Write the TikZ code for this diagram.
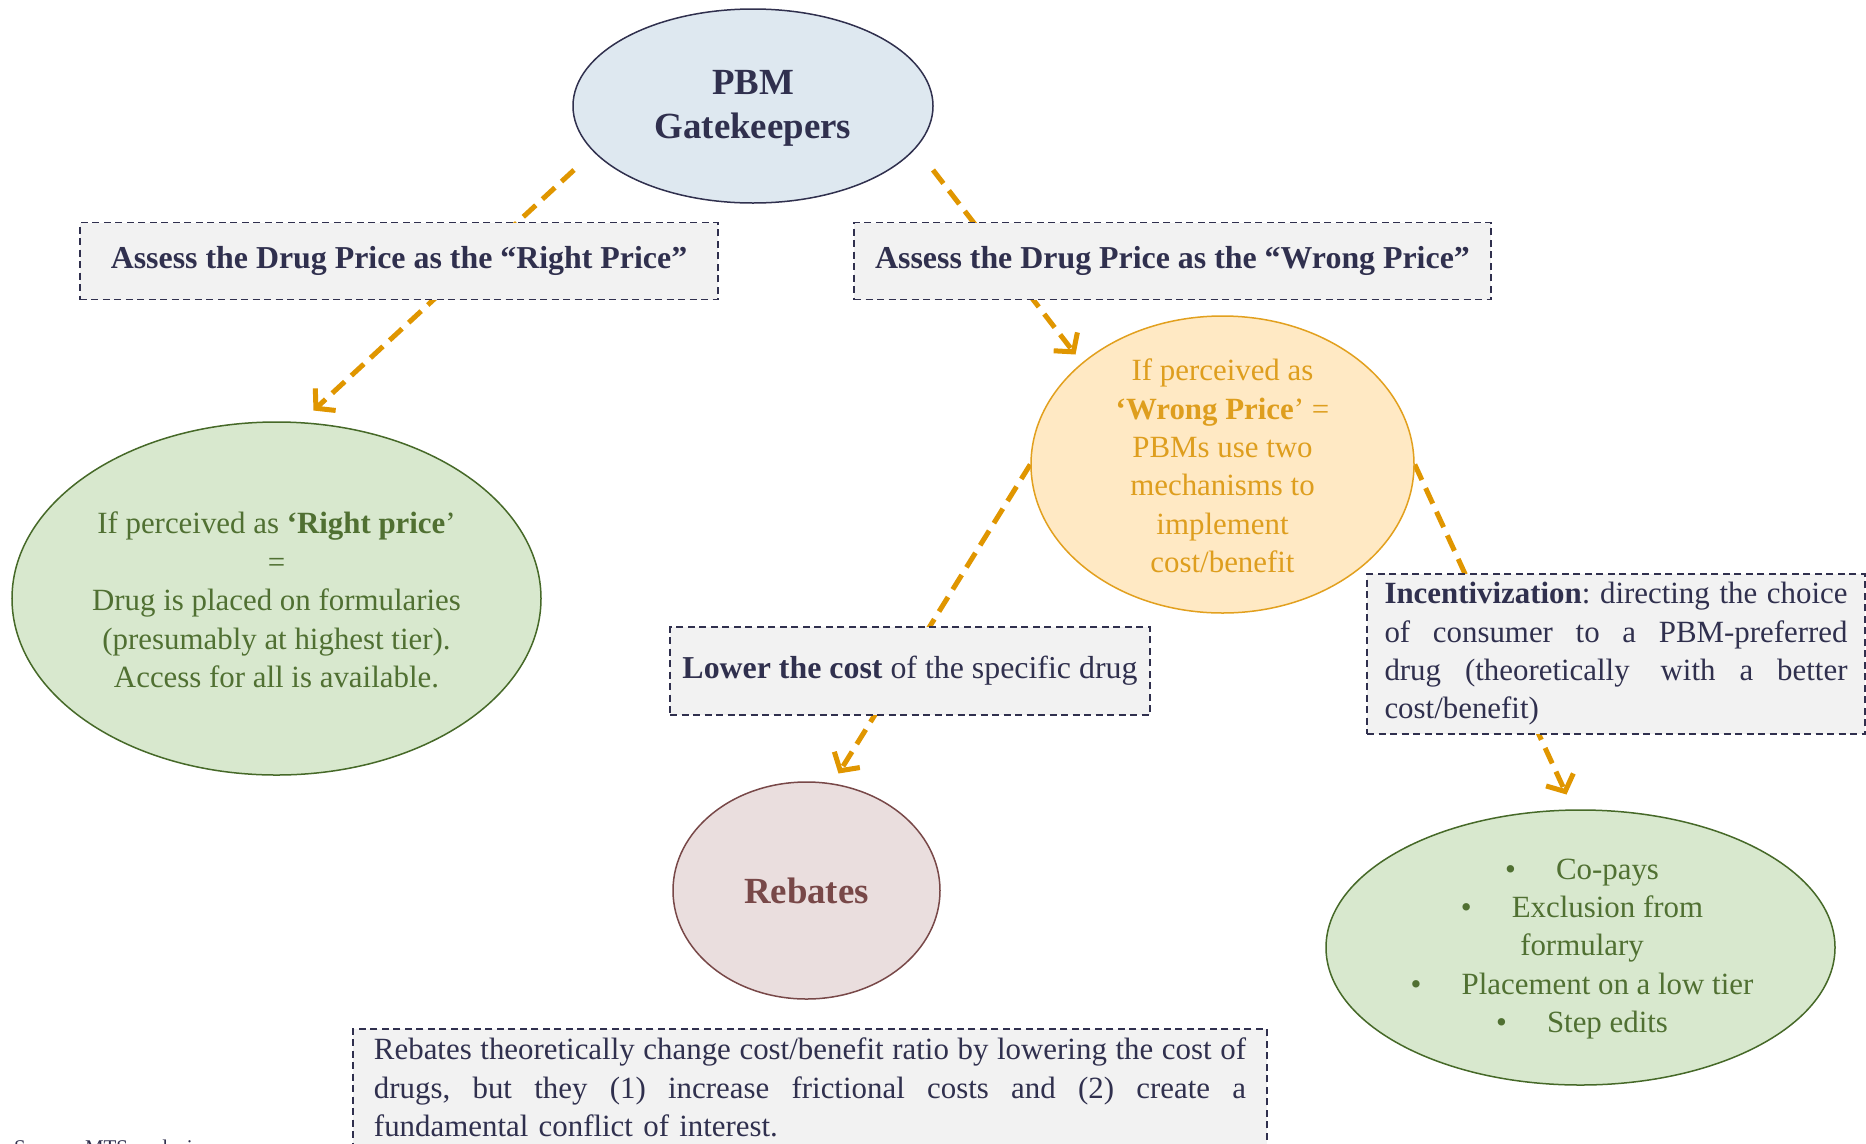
\documentclass[tikz,border=0pt]{standalone}
\usepackage{fontspec}
\setmainfont{Liberation Serif}
\usetikzlibrary{arrows.meta,shapes.geometric,backgrounds}
\definecolor{navy}{RGB}{48,48,78}
\definecolor{boxfill}{RGB}{242,242,242}
\definecolor{pbmfill}{RGB}{222,232,240}
\definecolor{grfill}{RGB}{216,232,206}
\definecolor{grline}{RGB}{70,105,40}
\definecolor{grtext}{RGB}{80,112,50}
\definecolor{orfill}{RGB}{255,233,196}
\definecolor{orline}{RGB}{226,160,30}
\definecolor{ortext}{RGB}{222,158,30}
\definecolor{arrcol}{RGB}{224,150,0}
\definecolor{rebfill}{RGB}{234,222,222}
\definecolor{rebline}{RGB}{120,72,72}
\newcommand{\bodyfont}{\fontsize{31}{38.5}\selectfont}
\newcommand{\boxfont}{\fontsize{32}{38.5}\selectfont}
\newcommand{\jline}[2]{\leavevmode\hbox to #1{\frenchspacing\spaceskip=0.25em plus 10em minus 0.15em\relax #2}}
\tikzset{
  dbox/.style={draw=navy, dash pattern=on 7bp off 4.5bp, line width=1.8bp, fill=boxfill, text=navy, inner sep=0pt, font=\bodyfont},
  ell/.style={ellipse, line width=1.5bp, inner sep=0pt},
  conn/.style={draw=arrcol, line width=5bp, dash pattern=on 17bp off 9bp, -{Straight Barb[length=13bp,width=30bp]}},
  txt/.style={align=center, inner sep=0pt, font=\bodyfont},
}
\begin{document}
\begin{tikzpicture}[x=1bp,y=-1bp]
\useasboundingbox (0,0) rectangle (1866,1143);
% ellipses
\node[ell, draw=navy, fill=pbmfill, minimum width=360bp, minimum height=194bp] (pbm) at (753,106) {};
\node[txt, text=navy, font=\bfseries\fontsize{37}{44}\selectfont] (pbmt) at (753,108) {PBM\\Gatekeepers};

\node[ell, draw=grline, fill=grfill, minimum width=529bp, minimum height=353bp] (rgt) at (276.5,598.5) {};
\node[txt, text=grtext] (rgtt) at (276.5,600) {If perceived as \textbf{‘Right price}’\\=\\Drug is placed on formularies\\(presumably at highest tier).\\Access for all is available.};

\node[ell, draw=orline, fill=orfill, minimum width=383bp, minimum height=297bp] (wrg) at (1222.5,464.5) {};
\node[txt, text=ortext] (wrgt) at (1222.5,466) {If perceived as\\\textbf{‘Wrong Price}’ =\\PBMs use two\\mechanisms to\\implement\\cost/benefit};

\node[ell, draw=rebline, fill=rebfill, minimum width=267bp, minimum height=217bp] (reb) at (806.5,890.5) {};
\node[txt, text=rebline, font=\bfseries\fontsize{37}{44}\selectfont] (rebt) at (806.5,891) {Rebates};

\node[ell, draw=grline, fill=grfill, minimum width=509bp, minimum height=275bp] (opt) at (1580.5,947.5) {};
\node[txt, text=grtext] (optt) at (1582,949) {\textbullet\hspace{1.3em}Co-pays\\\textbullet\hspace{1.3em}Exclusion from\\formulary\\\textbullet\hspace{1.3em}Placement on a low tier\\\textbullet\hspace{1.3em}Step edits};

% boxes
\node[dbox, font=\boxfont, minimum width=638bp, minimum height=77bp] (rbox) at (399,261) {\textbf{Assess the Drug Price as the “Right Price”}};
\node[dbox, font=\boxfont, minimum width=637bp, minimum height=77bp] (wbox) at (1172.5,261) {\textbf{Assess the Drug Price as the “Wrong Price”}};
\node[dbox, font=\boxfont, minimum width=480bp, minimum height=88bp] (lbox) at (910,671) {\textbf{Lower the cost} of the specific drug};
\node[dbox, minimum width=498bp, minimum height=160bp, text width=463bp, inner xsep=17.5bp, align=left] (ibox) at (1616,654) {\jline{463bp}{\textbf{Incentivization}: directing the choice}\\\jline{463bp}{of consumer to a PBM-preferred}\\\jline{463bp}{drug (theoretically\quad with a better}\\cost/benefit)};
\node[dbox, anchor=north, text width=872bp, inner xsep=21bp, inner ysep=9bp, align=left] (note) at (810,1028) {\jline{872bp}{Rebates theoretically change cost/benefit ratio by lowering the cost of}\\\jline{872bp}{drugs, but they (1) increase frictional costs and (2) create a}\\fundamental conflict of interest.};

\node[anchor=north west, inner sep=0pt, text=navy, font=\fontsize{21}{24}\selectfont] (src) at (14,1140) {Source: MTS analysis};

\begin{scope}[on background layer]
\fill[white] (0,0) rectangle (1866,1143);
\draw[conn] ([shift={(-179,64)}]pbm.center) -- ([shift={(37,-188)}]rgt.center);
\draw[conn] ([shift={(180,64)}]pbm.center) -- ([shift={(-147,-110)}]wrg.center);
\draw[conn] (wrg.west) -- ([shift={(32,-117)}]reb.center);
\draw[conn] (wrg.east) -- ([shift={(-14,-153)}]opt.center);
\end{scope}
\end{tikzpicture}
\end{document}
